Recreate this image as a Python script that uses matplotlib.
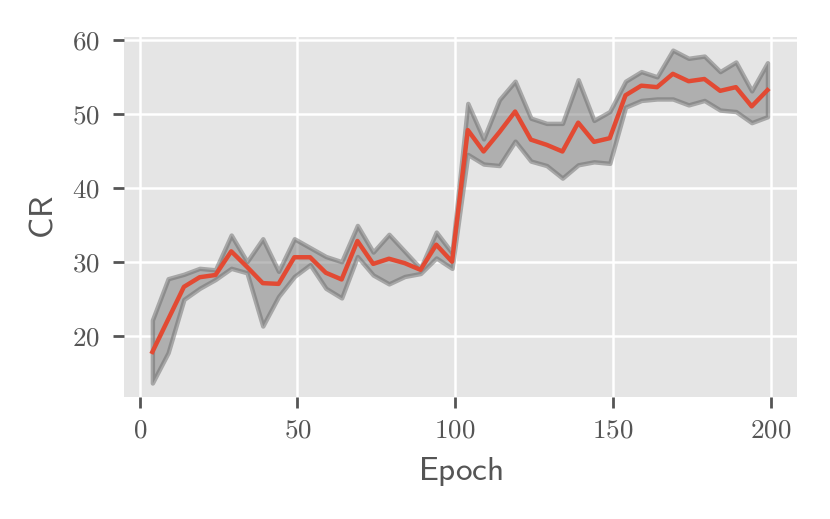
import matplotlib
matplotlib.use("Agg")
import matplotlib.pyplot as plt
from matplotlib.ticker import FuncFormatter

plt.rcParams['mathtext.fontset'] = 'cm'

# epochs (every 5th, 0-indexed)
epochs = [4 + 5 * i for i in range(40)]

cr_mean = [17.8, 22.2, 26.6, 27.9, 28.2, 31.4, 29.3, 27.1, 27.0, 30.6,
           30.6, 28.5, 27.6, 32.8, 29.7, 30.4, 29.8, 28.9, 32.3, 30.0,
           47.8, 44.9, 47.5, 50.3, 46.5, 45.8, 44.9, 48.8, 46.2, 46.7,
           52.5, 53.8, 53.6, 55.4, 54.4, 54.7, 53.1, 53.6, 51.0, 53.2]

cr_upper = [22.1, 27.7, 28.3, 29.1, 28.9, 33.6, 30.0, 33.1, 28.7, 33.1,
            31.9, 30.7, 30.0, 34.9, 31.3, 33.7, 31.4, 29.1, 34.0, 31.2,
            51.4, 46.6, 51.9, 54.4, 49.4, 48.7, 48.7, 54.6, 49.1, 50.3,
            54.4, 55.7, 55.0, 58.6, 57.5, 57.8, 55.7, 57.0, 53.1, 56.9]

cr_lower = [13.6, 17.7, 24.9, 26.4, 27.6, 29.1, 28.5, 21.3, 25.3, 28.0,
            29.6, 26.4, 25.1, 30.7, 28.2, 27.0, 28.0, 28.4, 30.5, 29.1,
            44.5, 43.2, 43.0, 46.3, 43.6, 43.0, 41.3, 43.1, 43.5, 43.3,
            50.9, 51.8, 52.0, 52.0, 51.2, 51.8, 50.5, 50.3, 48.8, 49.6]

fig = plt.figure(figsize=(8.3, 5.19), dpi=100)
ax = fig.add_axes([0.149, 0.235, 0.811, 0.694])
ax.set_facecolor('#E5E5E5')
for s in ax.spines.values():
    s.set_visible(False)
ax.grid(True, color='white', linewidth=1.8)
ax.set_axisbelow(True)

# spread band
ax.fill_between(epochs, cr_lower, cr_upper, facecolor='#7a7a7a',
                edgecolor='#6a6a6a', alpha=0.5, linewidth=3.2, zorder=2)

# mean
ax.plot(epochs, cr_mean, color='#E24A33', linewidth=3.2, zorder=3)

ax.set_xlim(-5.1, 208.3)
ax.set_ylim(11.7, 60.4)
ax.set_xticks([0, 50, 100, 150, 200])
ax.set_yticks([20, 30, 40, 50, 60])
fmt = FuncFormatter(lambda v, p: r'$%d$' % v)
ax.xaxis.set_major_formatter(fmt)
ax.yaxis.set_major_formatter(fmt)
ax.tick_params(colors='#555555', labelsize=19.5, length=8, width=2, pad=7)
ax.tick_params(axis='y', pad=9)

ax.set_xlabel(r'$\mathsf{Epoch}$', fontsize=24, color='#555555', labelpad=8)
ax.set_ylabel(r'$\mathsf{CR}$', fontsize=24, color='#555555', labelpad=9)

fig.savefig('out.png', dpi=100)
